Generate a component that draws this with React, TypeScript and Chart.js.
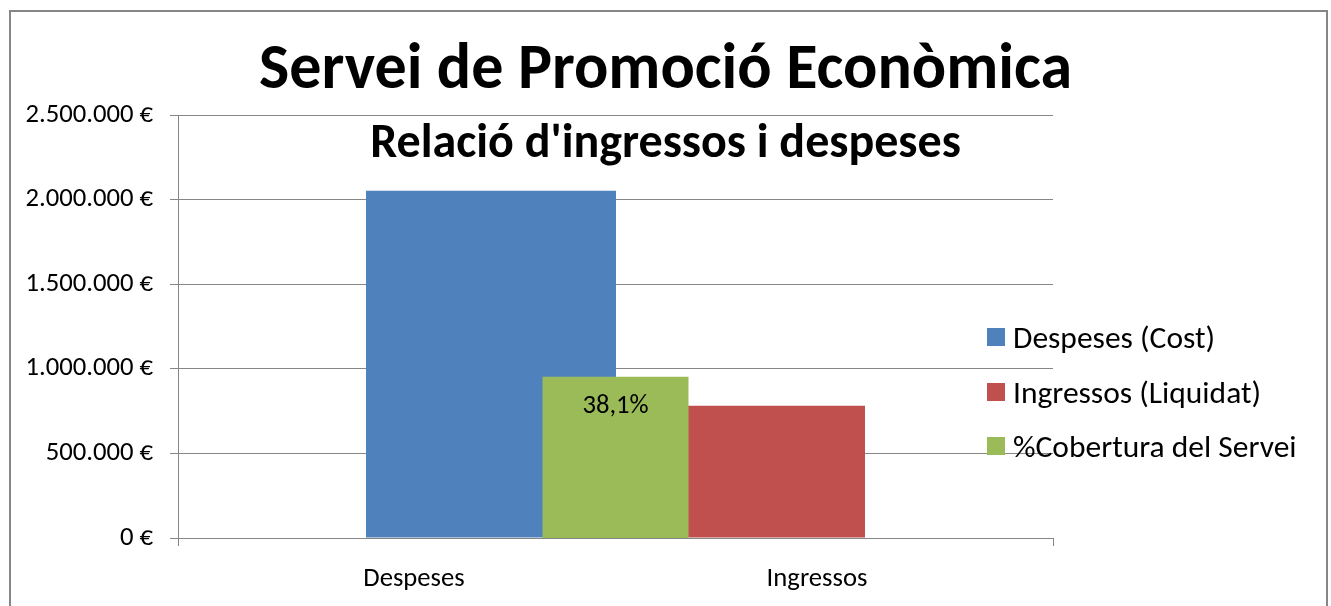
import React, { useEffect, useRef } from 'react';
import { Chart, registerables } from 'chart.js';
Chart.register(...registerables);

const categories = ['Despeses', 'Ingressos'];
const seriesNames = ['Despeses (Cost)', 'Ingressos (Liquidat)', '%Cobertura del Servei'];
const despesesValues = [2053000];
const ingressosValues = [782000];
const coberturaValues = [0.381];
const yTickValues = [0, 500000, 1000000, 1500000, 2000000, 2500000];
const seriesColors = ['#4F81BD', '#C0504D', '#9BBB59'];
const titleText = 'Servei de Promoció Econòmica';
const subtitleText = "Relació d'ingressos i despeses";

const FONT = 'Carlito, Calibri, Lato, sans-serif';
const GRID = '#868686';
const CLEAR = 'rgba(0,0,0,0)';

const fmtEuro = (v: number) => String(Math.round(v)).replace(/\B(?=(\d{3})+(?!\d))/g, '.') + ' €';
const fmtPct = (v: number) => (v * 100).toFixed(1).replace('.', ',') + '%';

const pctLabelPlugin = {
  id: 'pctLabel',
  afterDatasetsDraw(chart: any) {
    const ctx = chart.ctx;
    const meta = chart.getDatasetMeta(2);
    meta.data.forEach((el: any, i: number) => {
      const v = chart.data.datasets[2].data[i];
      ctx.save();
      ctx.font = `26.67px ${FONT}`;
      ctx.fillStyle = '#000';
      ctx.textAlign = 'center';
      ctx.textBaseline = 'middle';
      ctx.fillText(fmtPct(v), el.x, el.y + 29);
      ctx.restore();
    });
  },
};

export default function App() {
  const ref = useRef<HTMLCanvasElement>(null);

  useEffect(() => {
    const chart = new Chart(ref.current!, {
      type: 'bar',
      data: {
        labels: categories,
        datasets: [
          { label: seriesNames[0], data: despesesValues, backgroundColor: seriesColors[0], xAxisID: 'xb', yAxisID: 'y', order: 1, categoryPercentage: 0.56914, barPercentage: 1.004 } as any,
          { label: seriesNames[1], data: ingressosValues, backgroundColor: seriesColors[1], xAxisID: 'xb', yAxisID: 'y', order: 2, categoryPercentage: 0.736, barPercentage: 0.5497 } as any,
          { label: seriesNames[2], data: coberturaValues, backgroundColor: seriesColors[2], xAxisID: 'xb', yAxisID: 'y2', order: 0, grouped: false, categoryPercentage: 1, barPercentage: 0.16686 } as any,
        ],
      },
      options: {
        animation: false,
        responsive: true,
        maintainAspectRatio: false,
        layout: { padding: 0 },
        plugins: {
          legend: { display: false },
          tooltip: { enabled: false },
          title: {
            display: true,
            text: titleText,
            color: '#000',
            font: { family: FONT, size: 64, weight: 'bold', lineHeight: 1 },
            padding: { top: 40, bottom: 0 },
          },
          subtitle: {
            display: true,
            text: subtitleText,
            color: '#000',
            font: { family: FONT, size: 48, weight: 'bold', lineHeight: 1 },
            padding: { top: 17, bottom: -54 },
          },
        },
        scales: {
          x: {
            type: 'linear',
            offset: false,
            min: -0.5855,
            max: categories.length - 1 + 0.5855,
            afterBuildTicks: (s: any) => {
              s.ticks = [s.min, ...categories.map((_, i) => i), s.max].map((v) => ({ value: v }));
            },
            grid: {
              offset: false,
              drawOnChartArea: false,
              tickLength: 8,
              color: (c: any) => (c.index === 0 || c.index === categories.length + 1 ? GRID : CLEAR),
            },
            border: { color: GRID, width: 1 },
            ticks: {
              color: '#000',
              autoSkip: false,
              maxRotation: 0,
              font: { family: FONT, size: 26.67, lineHeight: 1.2 },
              padding: 17,
              callback: (v: any) => (Number.isInteger(v) && categories[v] !== undefined ? categories[v] : ''),
            },
            afterFit: (s: any) => { s.height = 68; },
          },
          xb: {
            type: 'category',
            labels: [''],
            offset: true,
            display: false,
          },
          y: {
            min: 0,
            max: 2500000,
            afterBuildTicks: (s: any) => { s.ticks = yTickValues.map((v) => ({ value: v })); },
            grid: { color: GRID, tickLength: 8 },
            border: { color: GRID },
            ticks: { color: '#000', font: { family: FONT, size: 26.67 }, padding: 17, callback: (v: any) => fmtEuro(Number(v)) },
            afterFit: (s: any) => { s.width = 178; },
          },
          y2: {
            min: 0,
            max: 1,
            display: true,
            position: 'right',
            grid: { display: false, drawTicks: false },
            border: { display: false },
            ticks: { display: false },
            afterFit: (s: any) => { s.width = 278; },
          },
        },
      } as any,
      plugins: [pctLabelPlugin],
    });
    return () => chart.destroy();
  }, []);

  return (
    <div style={{ position: 'fixed', left: 0, top: 0, width: 1331, height: 606, background: '#fff' }}>
      <div style={{ position: 'absolute', left: 9, top: 10, width: 1315, height: 700, border: `2px solid ${GRID}`, borderBottom: 'none' }} />
      <div style={{ position: 'absolute', left: 0, top: 0, width: 1331, height: 606 }}>
        <canvas ref={ref} />
      </div>
      <div style={{ position: 'absolute', left: 987, top: 309.75 }}>
        {seriesNames.map((n, i) => (
          <div key={n} style={{ display: 'flex', alignItems: 'center', height: 54.5, fontFamily: FONT, fontSize: 31.5, lineHeight: '32px', color: '#000', whiteSpace: 'nowrap' }}>
            <span style={{ width: 18, height: 18, background: seriesColors[i], marginRight: 8, display: 'inline-block', flex: 'none' }} />
            <span>{n}</span>
          </div>
        ))}
      </div>
    </div>
  );
}
